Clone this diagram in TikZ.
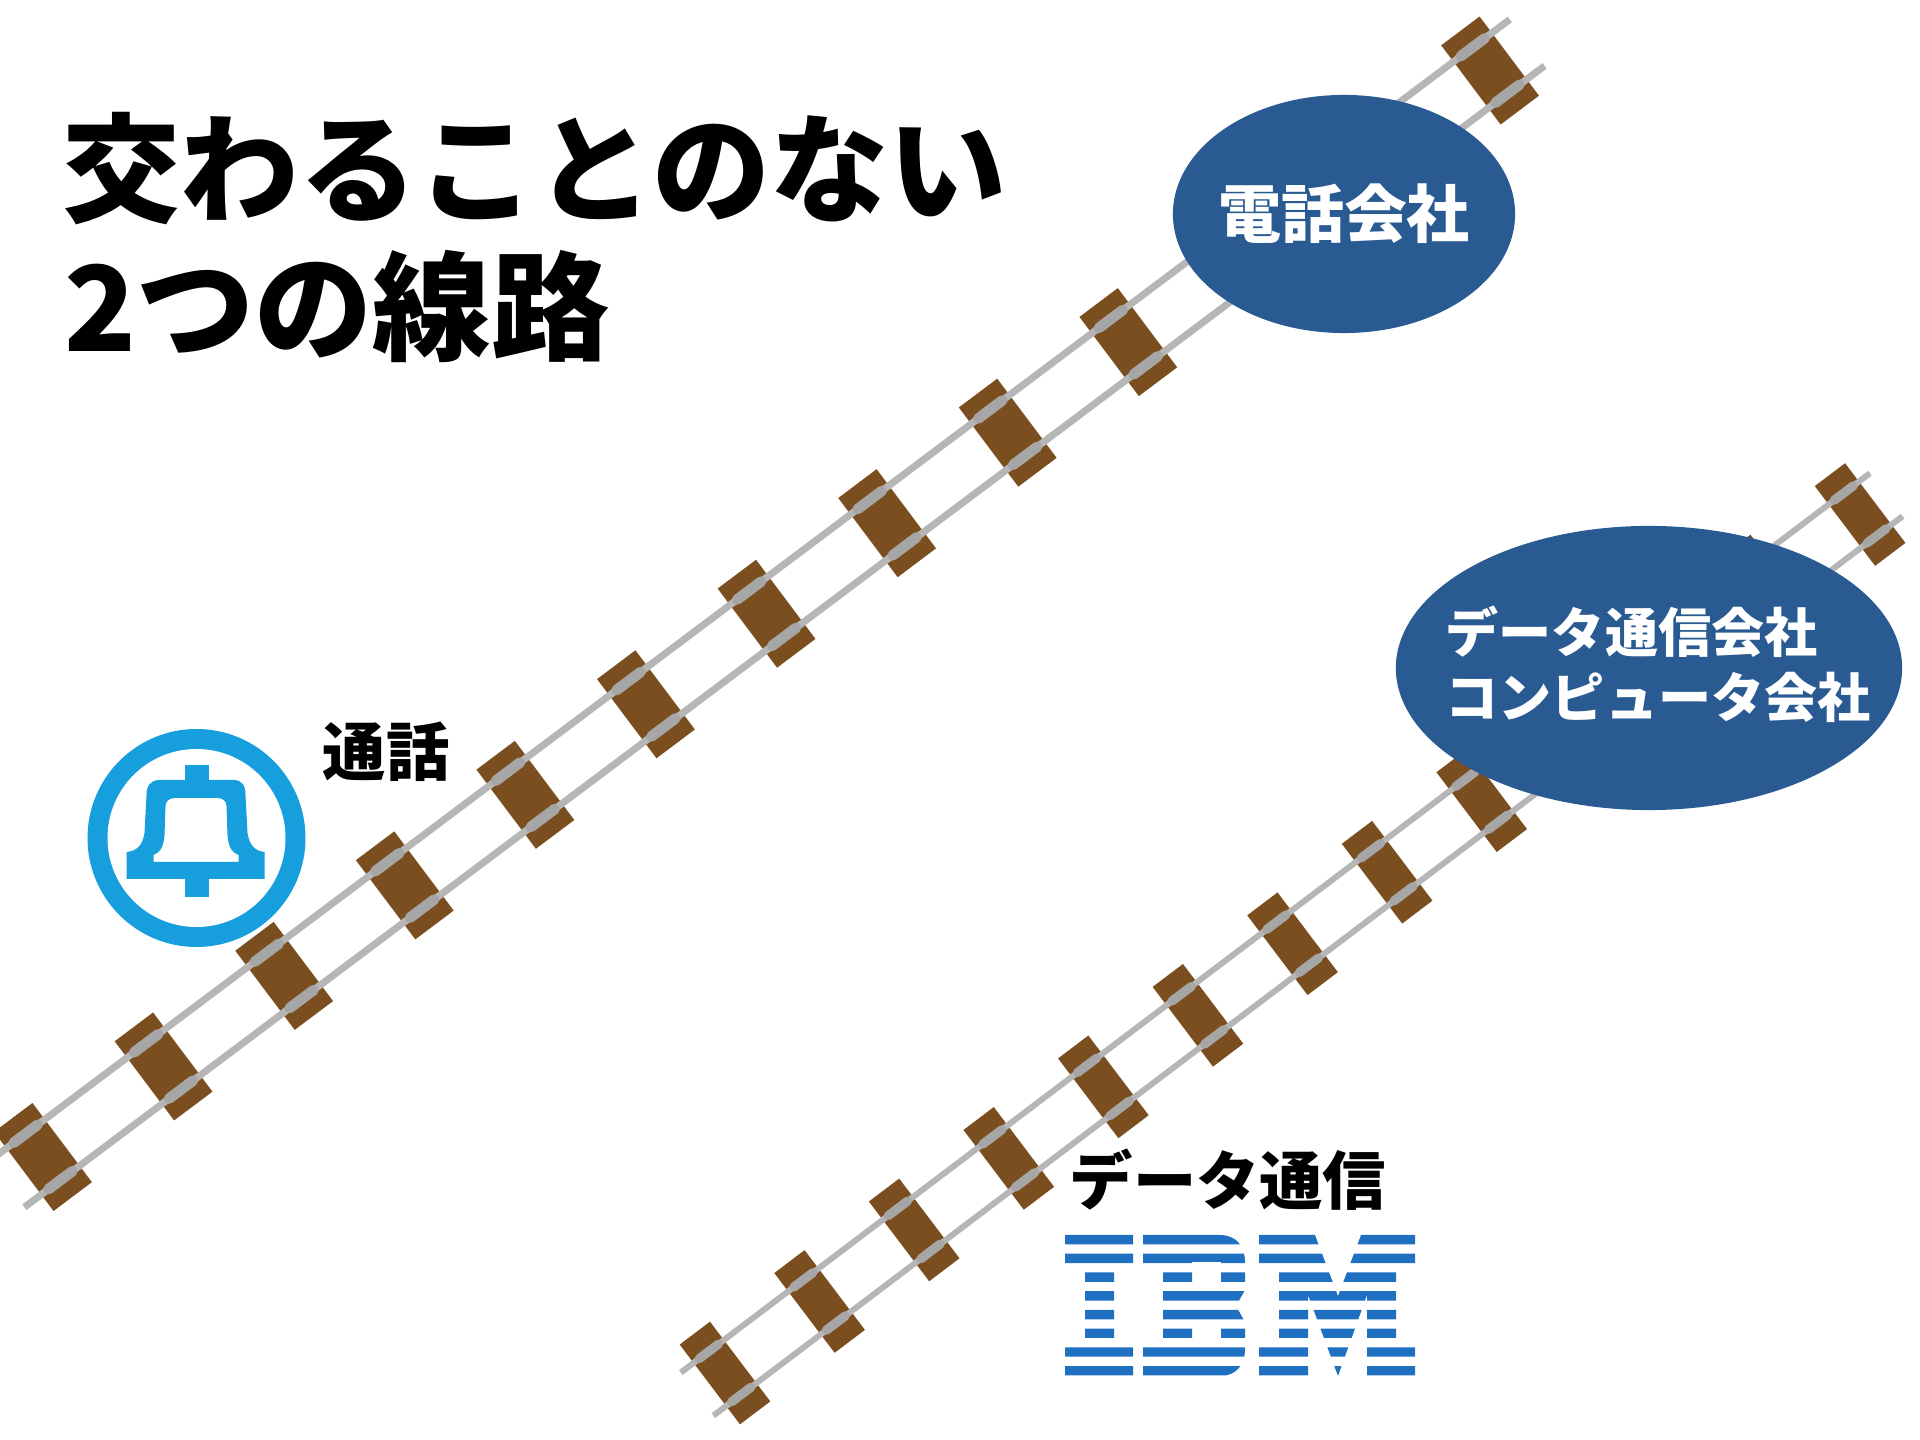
\documentclass[tikz,border=0pt]{standalone}
\usepackage{fontspec}
\setmainfont{Noto Sans CJK JP}
\usetikzlibrary{shapes.geometric}

\definecolor{railgray}{RGB}{182,182,182}
\definecolor{plategray}{RGB}{166,166,166}
\definecolor{tiebrown}{RGB}{123,78,32}
\definecolor{companyblue}{RGB}{41,90,146}
\definecolor{bellblue}{RGB}{22,158,221}
\definecolor{ibmblue}{RGB}{31,112,193}

\tikzset{
  tie/.style={fill=tiebrown},
  rail/.style={draw=railgray},
  plate/.style={draw=plategray, line cap=round},
  company/.style={ellipse, fill=companyblue, inner sep=0pt},
  companytext/.style={text=white, align=left, inner sep=0pt},
  heading/.style={font=\bfseries\fontsize{33.6}{39}\selectfont, inner sep=0pt, anchor=base west},
  jplabel/.style={font=\bfseries\fontsize{18}{21}\selectfont, inner sep=0pt},
}

\begin{document}
\begin{tikzpicture}[x=0.01cm, y=-0.01cm]
    \useasboundingbox (0,0) rectangle (1920,1440);
    \clip (0,0) rectangle (1920,1440);

    % upper line
    \begin{scope}[shift={(43,1157)}, rotate=36.9]
        \foreach \i in {0,...,12}
            \fill[tie] (150.8*\i-24,-49.5) rectangle (150.8*\i+24,49.5);
        \foreach \t in {-29,29} {
            \draw[rail, line width=2pt] (-45,\t) -- (1856,\t);
            \foreach \i in {0,...,12}
                \draw[plate, line width=3pt] (150.8*\i-15,\t) -- (150.8*\i+15,\t);
        }
    \end{scope}

    % lower line
    \begin{scope}[shift={(725,1373)}, rotate=37.1]
        \foreach \i in {0,...,12}
            \fill[tie] (118.6*\i-19,-50) rectangle (118.6*\i+19,50);
        \foreach \t in {-27,27} {
            \draw[rail, line width=1.7pt] (-35,\t) -- (1456,\t);
            \foreach \i in {0,...,12}
                \draw[plate, line width=2.6pt] (118.6*\i-12,\t) -- (118.6*\i+12,\t);
        }
    \end{scope}

    % title
    \node[heading] (title1) at (62,214) {交わることのない};
    \node[heading] (title2) at (64,352) {2つの線路};

    % companies
    \node[company, minimum width=3.42cm, minimum height=2.38cm] (phoneco) at (1344,214) {};
    \node[companytext, font=\bfseries\fontsize{17.9}{21}\selectfont] (phonetext) at (phoneco) {電話会社};
    \node[company, minimum width=5.06cm, minimum height=2.84cm] (dataco) at (1649,668) {};
    \node[companytext, font=\bfseries\fontsize{15.1}{18.5}\selectfont, anchor=west] (datatext) at (1445,664)
        {データ通信会社\\コンピュータ会社};

    % bell
    \begin{scope}[shift={(196.5,838)}]
        \fill[bellblue] (0,0) circle (109);
        \fill[white] (0,0) circle (89);
        \fill[bellblue] (-12,-73) rectangle (12,-56);
        \fill[bellblue] (-12,40) rectangle (12,59);
        \fill[bellblue, even odd rule]
            (-37,-58) -- (37,-58) .. controls (46,-58) and (49,-52) .. (49,-43)
            -- (51,-5) .. controls (53,8) and (59,13) .. (68,14) -- (68,41)
            -- (-70,41) -- (-70,14) .. controls (-60,13) and (-54,8) .. (-52,-5)
            -- (-50,-43) .. controls (-50,-52) and (-46,-58) .. (-37,-58) -- cycle
            (-21,-40) -- (21,-40) .. controls (26,-40) and (30,-37) .. (30,-32)
            -- (31,-3) .. controls (32,10) and (36,15) .. (42,17) -- (42,24)
            -- (-43,24) -- (-43,17) .. controls (-37,15) and (-33,10) .. (-32,-3)
            -- (-31,-32) .. controls (-31,-37) and (-27,-40) .. (-21,-40) -- cycle;
    \end{scope}
    \node[jplabel] (call) at (386,752) {通話};

    % IBM
    \node[jplabel] (datacom) at (1228,1180) {データ通信};
    \begin{scope}
        \clip \foreach \k in {0,...,7} { (1060,1235+18.72*\k) rectangle (1420,1244.4+18.72*\k) };
        \fill[ibmblue] (1065,1235) -- (1133,1235) -- (1133,1266) -- (1114,1266) -- (1114,1345)
            -- (1133,1345) -- (1133,1376) -- (1065,1376) -- (1065,1345) -- (1085,1345)
            -- (1085,1266) -- (1065,1266) -- cycle;
        \fill[ibmblue, even odd rule] (1143,1235) -- (1220,1235)
            .. controls (1236,1235) and (1245,1246) .. (1245,1262) -- (1245,1290)
            -- (1236,1306) -- (1245,1322) -- (1245,1349)
            .. controls (1245,1365) and (1236,1376) .. (1220,1376) -- (1143,1376)
            -- (1143,1345) -- (1163,1345) -- (1163,1266) -- (1143,1266) -- cycle
            (1192,1262) rectangle (1221,1287)
            (1192,1324) rectangle (1221,1343);
        \fill[ibmblue] (1259,1235) -- (1315,1235) -- (1338,1296) -- (1361,1235) -- (1415,1235)
            -- (1415,1266) -- (1396,1266) -- (1396,1345) -- (1415,1345) -- (1415,1376)
            -- (1367,1376) -- (1367,1295) -- (1338,1376) -- (1308,1295) -- (1308,1376)
            -- (1259,1376) -- (1259,1345) -- (1279,1345) -- (1279,1266) -- (1259,1266) -- cycle;
    \end{scope}
\end{tikzpicture}
\end{document}
